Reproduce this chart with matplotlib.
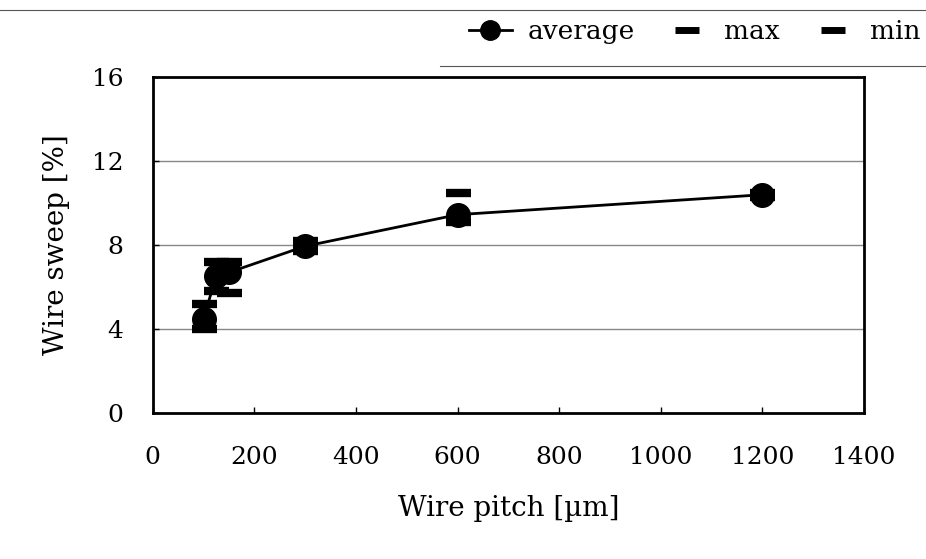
import matplotlib
matplotlib.use("Agg")
import matplotlib.pyplot as plt
from matplotlib.lines import Line2D

# Wire pitch [um] and measured wire sweep [%]
pitch = [100, 125, 150, 300, 600, 1200]
sweep_avg = [4.5, 6.55, 6.7, 7.95, 9.45, 10.4]
sweep_max = [5.2, 7.2, 7.2, 8.2, 10.5, 10.5]
sweep_min = [4.0, 5.8, 5.7, 7.7, 9.1, 10.3]

x_ticks = [0, 200, 400, 600, 800, 1000, 1200, 1400]
y_ticks = [0, 4, 8, 12, 16]

plt.rcParams['font.family'] = ['DejaVu Serif']

fig = plt.figure(figsize=(9.26, 5.59), dpi=100)
ax = fig.add_axes([0.165, 0.261, 0.768, 0.601])

ax.set_xlim(0, 1400)
ax.set_ylim(0, 16)
ax.set_xticks(x_ticks)
ax.set_yticks(y_ticks)
ax.tick_params(direction='in', length=4, width=1, labelsize=18)
ax.tick_params(axis='x', pad=24)
ax.tick_params(axis='y', pad=21)

for yv in y_ticks[1:-1]:
    ax.axhline(yv, color='#888888', lw=1.0, zorder=1)

for s in ax.spines.values():
    s.set_linewidth(2)

ax.plot(pitch, sweep_avg, '-', color='black', lw=2, marker='o', ms=17,
        zorder=3, label='average')
ax.plot(pitch, sweep_max, linestyle='none', marker='_', ms=18, mew=6,
        color='black', zorder=4, label='max')
ax.plot(pitch, sweep_min, linestyle='none', marker='_', ms=18, mew=6,
        color='black', zorder=4, label='min')

ax.set_xlabel('Wire pitch [µm]', fontsize=20)
ax.set_ylabel('Wire sweep [%]', fontsize=20)
ax.xaxis.set_label_coords(0.5, -0.245)
ax.yaxis.set_label_coords(-0.117, 0.5)

handles = [
    Line2D([], [], color='black', lw=2, marker='o', ms=14),
    Line2D([], [], color='black', lw=0, marker='_', ms=17, mew=5),
    Line2D([], [], color='black', lw=0, marker='_', ms=17, mew=5),
]
fig.legend(handles, ['average', 'max', 'min'], loc='center right',
           bbox_to_anchor=(1.011, 0.943), ncol=3, frameon=False, fontsize=19,
           handlelength=1.6, columnspacing=1.2, handletextpad=0.6,
           borderaxespad=0.2)

# thin rules above and below the legend row
fig.add_artist(Line2D([0.0, 1.0], [0.983, 0.983], color='#555555', lw=0.8))
fig.add_artist(Line2D([0.475, 1.0], [0.882, 0.882], color='#555555', lw=0.8))

fig.savefig('out.png', dpi=100)
